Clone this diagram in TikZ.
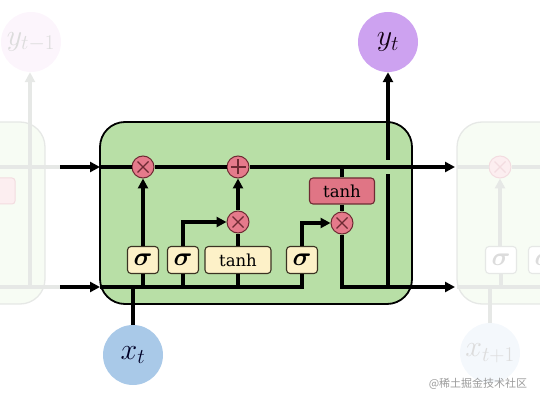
\RequirePackage{fix-cm}
\documentclass[tikz,border=0pt]{standalone}
\usepackage{amsmath}
\usepackage{fontspec}
\newfontfamily\cjk{Noto Sans CJK SC}
\newfontfamily\gatefont{DejaVu Serif}
\usetikzlibrary{arrows.meta}
\definecolor{cellgreen}{HTML}{B8DFA6}
\definecolor{opred}{HTML}{E57A8B}
\definecolor{opborder}{HTML}{6E2A33}
\definecolor{gatefill}{HTML}{FDF1C8}
\definecolor{gateborder}{HTML}{3B3322}
\definecolor{tanhred}{HTML}{E07585}
\definecolor{ycol}{HTML}{CDA2F0}
\definecolor{xcol}{HTML}{A9C9E8}
\definecolor{ghostgray}{HTML}{E6E8E6}
\definecolor{ghostgreen}{HTML}{F7FCF4}
\definecolor{ghostpink}{HTML}{FCF5FC}
\definecolor{ghostblue}{HTML}{F4F8FC}
\definecolor{ghostred}{HTML}{FCEEF0}
\definecolor{ghostredline}{HTML}{F3DCE0}
\definecolor{ghosttext}{HTML}{DCDCDC}
\definecolor{wmark}{HTML}{9B9B9B}
\begin{document}
\begin{tikzpicture}[x=1pt,y=-1pt,
  line/.style={line width=3.6pt, black},
  arr/.style={line, -{Triangle[length=10pt,width=10pt]}},
  ghost/.style={line width=3.6pt, ghostgray},
  garr/.style={ghost, -{Triangle[length=10pt,width=10pt]}},
  op/.style={circle, draw=opborder, fill=opred, line width=1pt, minimum size=22pt, inner sep=0pt},
  timesop/.style={op, path picture={
      \draw[opborder, line width=1.2pt]
        ([xshift=-5.5pt,yshift=-5.5pt]path picture bounding box.center) -- ([xshift=5.5pt,yshift=5.5pt]path picture bounding box.center)
        ([xshift=-5.5pt,yshift=5.5pt]path picture bounding box.center) -- ([xshift=5.5pt,yshift=-5.5pt]path picture bounding box.center);}},
  plusop/.style={op, path picture={
      \draw[opborder, line width=1.3pt]
        ([xshift=-7.5pt]path picture bounding box.center) -- ([xshift=7.5pt]path picture bounding box.center)
        ([yshift=-7.5pt]path picture bounding box.center) -- ([yshift=7.5pt]path picture bounding box.center);}},
  gate/.style={draw=gateborder, fill=gatefill, line width=1.1pt, rounded corners=3.5pt,
      minimum width=31pt, minimum height=27pt, inner sep=0pt, font=\fontsize{26}{26}\selectfont},
  tanhgate/.style={gate, minimum width=66pt, font=\gatefont\fontsize{16.5}{16.5}\selectfont},
  redgate/.style={gate, fill=tanhred, draw=opborder, minimum width=65pt, minimum height=26pt, font=\gatefont\fontsize{16.5}{16.5}\selectfont},
  ionode/.style={circle, minimum size=60pt, inner sep=0pt, font=\fontsize{30}{30}\selectfont},
  ghostcell/.style={draw=ghostgray, line width=1.3pt, fill=ghostgreen, rounded corners=25pt},
  ghostgate/.style={gate, draw=ghostgray, fill=white, text=ghosttext},
  ghostop/.style={circle, draw=ghostredline, fill=ghostred, line width=1pt, minimum size=22pt, inner sep=0pt,
      path picture={
      \draw[ghostredline, line width=1.2pt]
        ([xshift=-5.5pt,yshift=-5.5pt]path picture bounding box.center) -- ([xshift=5.5pt,yshift=5.5pt]path picture bounding box.center)
        ([xshift=-5.5pt,yshift=5.5pt]path picture bounding box.center) -- ([xshift=5.5pt,yshift=-5.5pt]path picture bounding box.center);}},
  cell/.style={draw=black, line width=1.8pt, fill=cellgreen, rounded corners=25pt, minimum width=312pt, minimum height=182pt}
]
\useasboundingbox (0,0) rectangle (540,403);

% ---------- ghost cell on the left ----------
\draw[ghostcell] (-130,122) rectangle (45,304);
\draw[draw=ghostredline, fill=ghostred, line width=1pt, rounded corners=3pt] (-50,178) rectangle (15,204);
\node[ionode, fill=ghostpink, text=ghosttext] (yprev) at (31,42) {$y_{t-1}$};
\coordinate (glt) at (0,167);
\coordinate (glb) at (0,287);
\coordinate (gll) at (30,287);
\coordinate (ina) at (60,167);
\coordinate (inb) at (60,287);
\draw[ghost] (glt) -- (ina);
\draw[ghost] (glb) -- (inb);
\draw[garr] (gll) -- (gll |- yprev.south);

% ---------- ghost cell on the right ----------
\draw[ghostcell] (457,122) rectangle (660,304);
\node[ghostop] (gm) at (500,167) {};
\node[ghostgate] (gs1) at (501,260) {$\boldsymbol{\sigma}$};
\node[ghostgate] (gs2) at (544,260) {$\boldsymbol{\sigma}$};
\node[ionode, fill=ghostblue, text=ghosttext] (xnext) at (490,353) {$x_{t+1}$};
\coordinate (grl) at (457,167);
\coordinate (grr) at (540,167);
\coordinate (grbl) at (457,287);
\coordinate (grbr) at (540,287);
\draw[ghost] (grl) -- (gm.west);
\draw[ghost] (gm.east) -- (grr);
\draw[ghost] (grbl) -- (grbr);
\draw[garr] (gm.south |- gs1.north) -- (gm.south);
\draw[ghost] (gs1.south) -- (gs1.south |- grbl);
\draw[ghost] (gs2.south) -- (gs2.south |- grbl);
\draw[ghost] (xnext.north) -- (xnext.north |- grbl);

% ---------- main cell ----------
\node[cell] (cell) at (256,213) {};

\node[timesop] (m1) at (143,167) {};
\node[plusop]  (pl) at (238,167) {};
\node[timesop] (m2) at (238,222) {};
\node[timesop] (m3) at (342,223) {};

\node[gate] (s1) at (143,260) {$\boldsymbol{\sigma}$};
\node[gate] (s2) at (183,260) {$\boldsymbol{\sigma}$};
\node[tanhgate] (tg) at (238,260) {tanh};
\node[gate] (s3) at (302,260) {$\boldsymbol{\sigma}$};
\node[redgate] (tr) at (342,191) {tanh};

\node[ionode, fill=ycol, text=black!85!violet] (yt) at (388,42) {$y_t$};
\node[ionode, fill=xcol, text=black!85!blue] (xt) at (133,355) {$x_t$};

\coordinate (boxl) at (100,167);
\coordinate (boxlb) at (100,287);
\coordinate (outa) at (455,167);
\coordinate (outb) at (455,287);
\coordinate (bri) at (342,167);
\coordinate (cross) at (388,167);
\coordinate (hb) at (388,287);

% inputs
\draw[arr] (ina) -- (boxl);
\draw[arr] (inb) -- (boxlb);

% cell state line
\draw[line] (boxl) -- (m1.west);
\draw[line] (m1.east) -- (pl.west);
\draw[arr] (pl.east) -- (outa);

% bottom line into gates
\draw[line] (boxlb) -- (s3.south |- boxlb) -- (s3.south);
\draw[line] (s1.south) -- (s1.south |- boxlb);
\draw[line] (s2.south) -- (s2.south |- boxlb);
\draw[line] (tg.south) -- (tg.south |- boxlb);
\draw[line] (xt.north) -- (xt.north |- boxlb);

% gates up
\draw[arr] (s1.north) -- (m1.south);
\draw[arr] (s2.north) |- (m2.west);
\draw[line] (tg.north) -- (m2.south);
\draw[arr] (m2.north) -- (pl.south);
\draw[line] (bri) -- (tr.north);
\draw[line] (tr.south) -- (m3.north);
\draw[arr] (s3.north) |- (m3.west);

% hidden output
\draw[arr] (m3.south) |- (outb);
\draw[line] (hb) -- ([yshift=-7pt]cross);
\draw[arr] ([yshift=7pt]cross) -- (yt.south);

% watermark
\node[text=wmark, font=\cjk\fontsize{11}{11}\selectfont] (wm) at (478,384) {@稀土掘金技术社区};
\end{tikzpicture}
\end{document}
